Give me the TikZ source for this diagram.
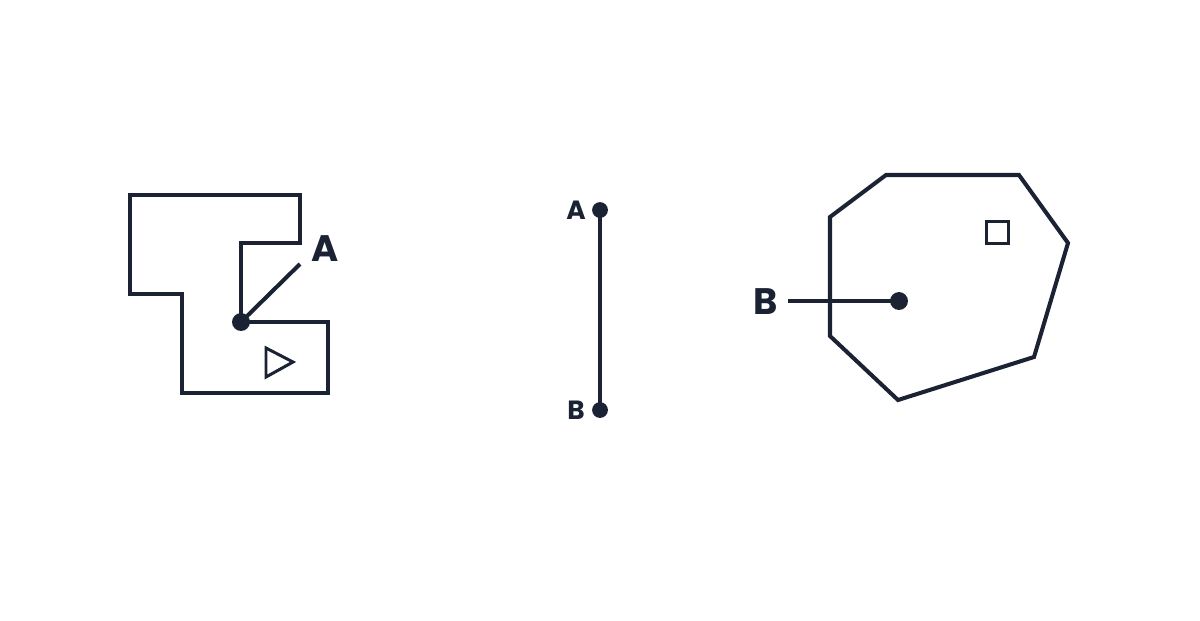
\documentclass[tikz,border=0pt]{standalone}
\usepackage{fontspec}
\setmainfont{Poppins}
\usetikzlibrary{positioning}
\definecolor{ink}{HTML}{1B2233}
\tikzset{
  wall/.style = {draw=ink, line width=2.3pt, line join=miter},
  thinwall/.style = {draw=ink, line width=1.7pt, line join=miter},
  dot/.style = {circle, fill=ink, inner sep=0pt, minimum size=#1},
  biglabel/.style = {text=ink, font=\bfseries\fontsize{21}{24}\selectfont, inner sep=0pt},
  smalllabel/.style = {text=ink, font=\bfseries\fontsize{15}{18}\selectfont, inner sep=0pt},
}

\begin{document}
\begin{tikzpicture}[x=0.02cm, y=-0.02cm]
	\useasboundingbox (0,0) rectangle (1200,620);
	% left room
	\coordinate (r1) at (130,195);
	\coordinate (r2) at (300,195);
	\coordinate (r3) at (300,243);
	\coordinate (r4) at (241,243);
	\coordinate (r6) at (328,322);
	\coordinate (r7) at (328,393);
	\coordinate (r8) at (182,393);
	\coordinate (r9) at (182,294);
	\coordinate (r10) at (130,294);
	\node [dot=10.2pt] (ra) at (241,322) {};
	\coordinate (rtip) at (300,264);
	\node [biglabel] (rlabel) at (325,249) {A};
	\draw [wall] (ra.center) -- (r4) -- (r3) -- (r2) -- (r1) -- (r10) -- (r9) -- (r8) -- (r7) -- (r6) -- (ra.center);
	\draw [wall] (ra.center) -- (rtip);
	\coordinate (t1) at (266,348);
	\coordinate (t2) at (266,377);
	\coordinate (t3) at (293,362);
	\draw [thinwall] (t1) -- (t2) -- (t3) -- cycle;
	% segment
	\node [dot=9pt] (sa) at (600,210) {};
	\node [dot=9pt] (sb) at (600,410) {};
	\node [smalllabel] (salabel) at (576,210) {A};
	\node [smalllabel] (sblabel) at (576,410) {B};
	\draw [wall] (sa.center) to (sb.center);
	% right polygon
	\coordinate (p1) at (886,175);
	\coordinate (p2) at (1019,175);
	\coordinate (p3) at (1068,243);
	\coordinate (p4) at (1034,357);
	\coordinate (p5) at (898,400);
	\coordinate (p6) at (830,336);
	\coordinate (p7) at (830,217);
	\draw [wall] (p1) -- (p2) -- (p3) -- (p4) -- (p5) -- (p6) -- (p7) -- cycle;
	\draw [thinwall] (986,221) rectangle (1008,243);
	\node [dot=10.2pt] (pb) at (899,301) {};
	\coordinate (ptail) at (788,301);
	\node [biglabel] (pblabel) at (766,302) {B};
	\draw [wall] (ptail) to (pb.center);
\end{tikzpicture}
\end{document}
